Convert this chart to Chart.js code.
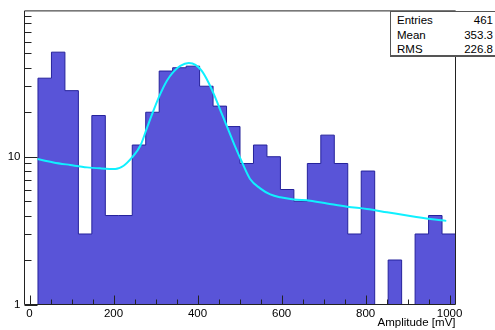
<!DOCTYPE html>
<html>
<head>
<meta charset="utf-8">
<script src="https://cdn.jsdelivr.net/npm/chart.js@4/dist/chart.umd.min.js"></script>
<style>
  html, body { margin: 0; padding: 0; background: #fff; overflow: hidden; }
  #wrap { position: relative; width: 495px; height: 330px; }
  #stats {
    position: absolute; left: 390px; top: 11px; width: 115px; height: 46px;
    box-sizing: border-box; background: #fff;
    border: 1px solid #555; border-bottom-width: 2px;
    padding: 1px 11px 0 6px;
    font: 11.5px "Liberation Sans", Arial, sans-serif; color: #000;
  }
  #stats .row { display: flex; justify-content: space-between; line-height: 14.6px; }
</style>
</head>
<body>
<div id="wrap">
  <canvas id="hist" width="495" height="330"></canvas>
  <div id="stats">
    <div class="row"><span>Entries</span><span>461</span></div>
    <div class="row"><span>Mean</span><span>353.3</span></div>
    <div class="row"><span>RMS</span><span>226.8</span></div>
  </div>
</div>
<script>
// histogram: 32 bins over the x range
const histLow = -12;
const histHigh = 1014;
const binCounts = [0, 34, 51, 28, 3, 19, 4, 4, 12, 20, 38, 40, 41, 30, 22, 16,
                   9, 12, 10, 6, 5, 9, 14, 9, 3, 8, 0, 2, 0, 3, 4, 3];

// fitted curve
const fitX = [19, 57, 97, 137, 168, 204, 224, 244, 264, 280, 295, 311, 327, 343, 359, 379,
              395, 410, 426, 442, 458, 474, 490, 506, 525, 549, 573, 597, 629, 668, 708,
              756, 803, 851, 906, 954, 992];
const fitY = [9.65, 9.15, 8.79, 8.47, 8.34, 8.26, 8.69, 9.89, 11.9, 15.8, 20.5, 26.5, 32.7,
              37.7, 41.2, 43.0, 41.9, 38.1, 31.8, 25.2, 19.4, 15.0, 11.6, 9.15, 7.07, 6.11,
              5.56, 5.31, 5.14, 5.04, 4.83, 4.59, 4.43, 4.21, 3.97, 3.79, 3.68];

const yMin = 1;
const yMax = 97;
const xTickValues = [0, 200, 400, 600, 800, 1000];
const xMinorTicks = [50, 100, 150, 250, 300, 350, 450, 500, 550, 650, 700, 750, 850, 900, 950];
const yTickValues = [1, 10];
const yMinorTicks = [2, 3, 4, 5, 6, 7, 8, 9, 20, 30, 40, 50, 60, 70, 80, 90];

// log axis can't show 0, empty bins sit on the axis floor like ROOT does
const binWidth = (histHigh - histLow) / binCounts.length;
const histPoints = binCounts.map((c, i) => ({ x: histLow + i * binWidth, y: c > 0 ? c : yMin }));
histPoints.push({ x: histHigh, y: yMin });
const fitPoints = fitX.map((x, i) => ({ x, y: fitY[i] }));

const fontFamily = "'Liberation Sans', Arial, sans-serif";
Chart.defaults.font.family = fontFamily;
Chart.defaults.font.size = 11.5;
Chart.defaults.color = "#000";

// ROOT style frame with inward ticks
const frameTicks = {
  id: "frameTicks",
  afterDatasetsDraw(chart) {
    const { ctx, chartArea: a, scales: { x, y } } = chart;
    ctx.save();
    ctx.strokeStyle = "#222";
    ctx.lineWidth = 1;
    ctx.beginPath();
    ctx.rect(a.left, a.top, a.right - a.left, a.bottom - a.top);
    const xTick = (v, len) => {
      const px = Math.round(x.getPixelForValue(v)) + 0.5;
      ctx.moveTo(px, a.bottom);
      ctx.lineTo(px, a.bottom - len);
    };
    const yTick = (v, len) => {
      const py = Math.round(y.getPixelForValue(v)) + 0.5;
      ctx.moveTo(a.left, py);
      ctx.lineTo(a.left + len, py);
    };
    xTickValues.forEach((v) => xTick(v, 9));
    xMinorTicks.forEach((v) => xTick(v, 5));
    yTickValues.forEach((v) => yTick(v, 13));
    yMinorTicks.forEach((v) => yTick(v, 7));
    ctx.stroke();
    ctx.restore();
  },
};

new Chart(document.getElementById("hist"), {
  type: "line",
  data: {
    datasets: [
      {
        data: fitPoints,
        borderColor: "#10f0ff",
        borderWidth: 2,
        pointRadius: 0,
        cubicInterpolationMode: "monotone",
        fill: false,
        order: 0,
      },
      {
        data: histPoints,
        stepped: true,
        borderColor: "#25229c",
        borderWidth: 1,
        backgroundColor: "#5954d8",
        pointRadius: 0,
        fill: "start",
        order: 1,
      },
    ],
  },
  options: {
    responsive: false,
    animation: false,
    layout: { padding: { left: 0, right: 39.5, top: 10.5, bottom: 0 } },
    plugins: { legend: { display: false }, tooltip: { enabled: false } },
    scales: {
      x: {
        type: "linear",
        min: histLow,
        max: histHigh,
        grid: { display: false, drawTicks: false, tickLength: 0 },
        border: { display: false },
        afterBuildTicks: (scale) => {
          scale.ticks = xTickValues.map((v) => ({ value: v }));
        },
        afterFit: (scale) => {
          scale.height = 25.5;
        },
        ticks: { padding: 2, maxRotation: 0, autoSkip: false, callback: (v) => String(v) },
        title: {
          display: true,
          text: "Amplitude [mV]",
          align: "end",
          padding: { top: 0, bottom: 0 },
        },
      },
      y: {
        type: "logarithmic",
        min: yMin,
        max: yMax,
        grid: { display: false, drawTicks: false, tickLength: 0 },
        border: { display: false },
        afterBuildTicks: (scale) => {
          scale.ticks = yTickValues.map((v) => ({ value: v, major: true }));
        },
        afterFit: (scale) => {
          scale.width = 24.5;
        },
        ticks: { padding: 4, autoSkip: false, callback: (v) => String(v) },
      },
    },
  },
  plugins: [frameTicks],
});
</script>
</body>
</html>
